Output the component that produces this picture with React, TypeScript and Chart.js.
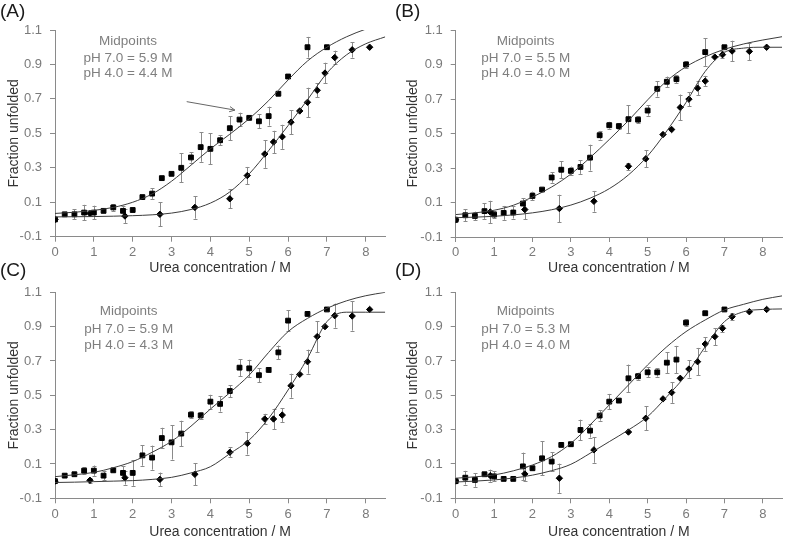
import React, { useEffect, useRef } from 'react';
import { Chart, registerables } from 'chart.js';

Chart.register(...registerables);
Chart.defaults.font.family = '"Liberation Sans", Arial, sans-serif';

// ---------- shared axes / sampling ----------
const xTickValues = [0, 1, 2, 3, 4, 5, 6, 7, 8];
const yTickValues = [-0.1, 0.1, 0.3, 0.5, 0.7, 0.9, 1.1];
const curveX = [0, 0.5, 1, 1.5, 2, 2.5, 3, 3.5, 4, 4.5, 5, 5.5, 6, 6.5, 7, 7.5, 8, 8.5];
const squareX = [0, 0.25, 0.5, 0.75, 1, 1.25, 1.5, 1.75, 2, 2.25, 2.5, 2.75, 3, 3.25, 3.5, 3.75, 4, 4.25, 4.5, 4.75, 5, 5.25, 5.5, 5.75, 6, 6.5, 7];
const diamondX = [0, 0.9, 1.8, 2.7, 3.6, 4.5, 4.95, 5.4, 5.625, 5.85, 6.075, 6.3, 6.5, 6.75, 6.95, 7.2, 7.65, 8.1];

// ---------- panel A ----------
const aSquareY = [0, 0.03, 0.03, 0.04, 0.04, 0.05, 0.07, 0.05, 0.055, 0.13, 0.15, 0.24, 0.265, 0.3, 0.36, 0.42, 0.41, 0.46, 0.53, 0.58, 0.59, 0.57, 0.6, 0.73, 0.83, 1.0, 1.0];
const aSquareErr = [0, 0, 0.03, 0.045, 0.04, 0, 0.02, 0.03, 0, 0, 0.03, 0, 0, 0.085, 0.03, 0.085, 0.09, 0.03, 0.07, 0.04, 0, 0.04, 0.055, 0, 0.01, 0.06, 0];
const aDiamondY = [0, 0.035, 0.02, 0.03, 0.07, 0.12, 0.255, 0.38, 0.45, 0.48, 0.565, 0.63, 0.68, 0.75, 0.85, 0.94, 0.985, 1.0];
const aDiamondErr = [0, 0, 0.04, 0.07, 0.065, 0.055, 0.05, 0.08, 0.065, 0.07, 0.07, 0, 0.085, 0.04, 0.06, 0.04, 0.045, 0];
const aSquareFit = [0.035, 0.042, 0.053, 0.07, 0.1, 0.148, 0.222, 0.315, 0.41, 0.495, 0.585, 0.69, 0.81, 0.92, 1.0, 1.06, 1.105, 1.14];
const aDiamondFit = [0.015, 0.016, 0.017, 0.019, 0.022, 0.027, 0.037, 0.058, 0.095, 0.16, 0.265, 0.4, 0.545, 0.695, 0.85, 0.955, 1.02, 1.06];
const aMidpoints = ['Midpoints', 'pH 7.0 = 5.9 M', 'pH 4.0 = 4.4 M'];
const aArrowFrom = { x: 3.39, y: 0.684 };
const aArrowTo = { x: 4.63, y: 0.635 };

// ---------- panel B ----------
const bSquareY = [0, 0.026, 0.022, 0.05, 0.03, 0.04, 0.042, 0.094, 0.138, 0.175, 0.245, 0.29, 0.283, 0.306, 0.36, 0.49, 0.548, 0.543, 0.583, 0.58, 0.633, 0.759, 0.8, 0.815, 0.9, 0.972, 1.0];
const bSquareErr = [0, 0.035, 0.025, 0.045, 0.02, 0.04, 0.035, 0.03, 0.025, 0, 0.03, 0.05, 0.025, 0.04, 0.075, 0.025, 0.02, 0.015, 0.08, 0.02, 0.03, 0.045, 0.03, 0.025, 0.02, 0.08, 0];
const bDiamondY = [0, 0.045, 0.059, 0.065, 0.107, 0.31, 0.353, 0.494, 0.523, 0.651, 0.699, 0.763, 0.804, 0.943, 0.957, 0.978, 0.976, 1.0];
const bDiamondErr = [0, 0.065, 0.055, 0.08, 0.06, 0.02, 0.05, 0, 0, 0.075, 0.04, 0.04, 0.03, 0, 0.02, 0.06, 0.05, 0];
const bSquareFit = [0.03, 0.04, 0.055, 0.084, 0.132, 0.19, 0.265, 0.36, 0.465, 0.575, 0.695, 0.805, 0.887, 0.945, 0.988, 1.019, 1.042, 1.061];
const bDiamondFit = [0.012, 0.015, 0.02, 0.028, 0.04, 0.058, 0.085, 0.125, 0.18, 0.26, 0.37, 0.515, 0.68, 0.86, 0.97, 0.995, 1.0, 1.0];
const bMidpoints = ['Midpoints', 'pH 7.0 = 5.5 M', 'pH 4.0 = 4.0 M'];

// ---------- panel C ----------
const cSquareY = [0, 0.032, 0.04, 0.061, 0.061, 0.032, 0.063, 0.048, 0.048, 0.15, 0.137, 0.251, 0.226, 0.277, 0.387, 0.383, 0.463, 0.45, 0.525, 0.661, 0.657, 0.617, 0.648, 0.75, 0.935, 0.974, 1.0];
const cSquareErr = [0, 0, 0, 0.02, 0.03, 0.025, 0, 0.04, 0.075, 0.06, 0.07, 0.06, 0.1, 0.075, 0.02, 0.02, 0.04, 0.045, 0.035, 0.05, 0.05, 0.04, 0.015, 0.04, 0.06, 0, 0];
const cDiamondY = [0, 0.005, 0.02, 0.01, 0.04, 0.168, 0.22, 0.362, 0.362, 0.385, 0.556, 0.622, 0.696, 0.842, 0.9, 0.964, 0.962, 1.0];
const cDiamondErr = [0, 0.015, 0.04, 0.04, 0.065, 0.03, 0.065, 0.03, 0.06, 0.04, 0.07, 0, 0.07, 0.09, 0, 0.07, 0.085, 0];
const cSquareFit = [0.026, 0.037, 0.051, 0.078, 0.114, 0.168, 0.232, 0.32, 0.42, 0.515, 0.618, 0.75, 0.871, 0.948, 1.007, 1.05, 1.08, 1.1];
const cDiamondFit = [-0.008, -0.006, -0.003, 0, 0.003, 0.01, 0.022, 0.048, 0.084, 0.16, 0.24, 0.366, 0.531, 0.716, 0.929, 0.984, 0.984, 0.984];
const cMidpoints = ['Midpoints', 'pH 7.0 = 5.9 M', 'pH 4.0 = 4.3 M'];

// ---------- panel D ----------
const dSquareY = [0, 0.02, 0.007, 0.04, 0.028, 0.013, 0.013, 0.086, 0.075, 0.133, 0.114, 0.211, 0.215, 0.298, 0.294, 0.382, 0.463, 0.469, 0.599, 0.611, 0.634, 0.634, 0.69, 0.708, 0.923, 0.978, 1.0];
const dSquareErr = [0, 0.04, 0.04, 0, 0.03, 0, 0, 0.08, 0, 0.1, 0.055, 0, 0, 0.06, 0.04, 0.03, 0.045, 0, 0.08, 0.02, 0.03, 0.025, 0.06, 0.08, 0.02, 0, 0];
const dDiamondY = [0, 0.032, 0.042, 0.017, 0.182, 0.286, 0.366, 0.479, 0.516, 0.599, 0.653, 0.696, 0.799, 0.842, 0.89, 0.958, 0.987, 1.0];
const dDiamondErr = [0, 0.035, 0.04, 0.085, 0.075, 0, 0.07, 0, 0.06, 0, 0.05, 0.08, 0.04, 0.05, 0.02, 0.02, 0, 0];
const dSquareFit = [0.017, 0.025, 0.036, 0.06, 0.094, 0.143, 0.22, 0.327, 0.444, 0.56, 0.677, 0.783, 0.871, 0.939, 0.997, 1.03, 1.059, 1.079];
const dDiamondFit = [-0.005, 0, 0.007, 0.018, 0.035, 0.061, 0.098, 0.162, 0.23, 0.298, 0.376, 0.492, 0.618, 0.783, 0.929, 0.987, 1.0, 1.003];
const dMidpoints = ['Midpoints', 'pH 7.0 = 5.3 M', 'pH 4.0 = 4.0 M'];

const xTitle = 'Urea concentration / M';
const yTitle = 'Fraction unfolded';

type PanelCfg = {
  letter: string;
  left: number; top: number; width: number; height: number;
  plotLeft: number; plotRight: number; plotTop: number; plotBottom: number;
  letterY: number; yTitlePad: number; xTitlePad: number;
  textDx: number; textDy: number[];
  squareY: number[]; squareErr: number[]; diamondY: number[]; diamondErr: number[];
  squareFit: number[]; diamondFit: number[]; midpoints: string[];
  arrow?: { from: { x: number; y: number }; to: { x: number; y: number } };
};

const panels: PanelCfg[] = [
  {
    letter: '(A)', left: 0, top: 0, width: 395, height: 275,
    plotLeft: 55, plotRight: 385.2, plotTop: 30, plotBottom: 236.7,
    letterY: 11.5, yTitlePad: 7.5, xTitlePad: -0.3, textDx: 73, textDy: [11, 28.5, 43.5],
    squareY: aSquareY, squareErr: aSquareErr, diamondY: aDiamondY, diamondErr: aDiamondErr,
    squareFit: aSquareFit, diamondFit: aDiamondFit, midpoints: aMidpoints,
    arrow: { from: aArrowFrom, to: aArrowTo },
  },
  {
    letter: '(B)', left: 395, top: 0, width: 392, height: 275,
    plotLeft: 60.7, plotRight: 390.7, plotTop: 30, plotBottom: 237,
    letterY: 11.5, yTitlePad: 11.3, xTitlePad: -0.3, textDx: 70, textDy: [11, 28.5, 43.5],
    squareY: bSquareY, squareErr: bSquareErr, diamondY: bDiamondY, diamondErr: bDiamondErr,
    squareFit: bSquareFit, diamondFit: bDiamondFit, midpoints: bMidpoints,
  },
  {
    letter: '(C)', left: 0, top: 262, width: 395, height: 275,
    plotLeft: 55, plotRight: 385.2, plotTop: 30.3, plotBottom: 236.3,
    letterY: 9, yTitlePad: 7.5, xTitlePad: -1.7, textDx: 73.7, textDy: [19.4, 36.7, 53.2],
    squareY: cSquareY, squareErr: cSquareErr, diamondY: cDiamondY, diamondErr: cDiamondErr,
    squareFit: cSquareFit, diamondFit: cDiamondFit, midpoints: cMidpoints,
  },
  {
    letter: '(D)', left: 395, top: 262, width: 392, height: 275,
    plotLeft: 60.7, plotRight: 390.7, plotTop: 30.3, plotBottom: 236.3,
    letterY: 9, yTitlePad: 11.3, xTitlePad: -1.7, textDx: 70, textDy: [19.4, 36.7, 53.2],
    squareY: dSquareY, squareErr: dSquareErr, diamondY: dDiamondY, diamondErr: dDiamondErr,
    squareFit: dSquareFit, diamondFit: dDiamondFit, midpoints: dMidpoints,
  },
];

const errorBarPlugin = {
  id: 'errorBars',
  beforeDatasetsDraw(chart: any) {
    const { ctx } = chart;
    const xs = chart.scales.x;
    const ys = chart.scales.y;
    ctx.save();
    ctx.strokeStyle = '#8a8a8a';
    ctx.lineWidth = 1;
    chart.data.datasets.forEach((ds: any) => {
      if (!ds.errors) return;
      ds.data.forEach((p: any, i: number) => {
        const e = ds.errors[i];
        if (!e) return;
        const px = Math.round(xs.getPixelForValue(p.x)) + 0.5;
        const yt = ys.getPixelForValue(p.y + e);
        const yb = ys.getPixelForValue(p.y - e);
        ctx.beginPath();
        ctx.moveTo(px, yt);
        ctx.lineTo(px, yb);
        ctx.moveTo(px - 2, Math.round(yt) + 0.5);
        ctx.lineTo(px + 2, Math.round(yt) + 0.5);
        ctx.moveTo(px - 2, Math.round(yb) + 0.5);
        ctx.lineTo(px + 2, Math.round(yb) + 0.5);
        ctx.stroke();
      });
    });
    ctx.restore();
  },
};

function makeTextPlugin(cfg: PanelCfg) {
  return {
    id: 'panelText',
    afterDraw(chart: any) {
      const { ctx, chartArea } = chart;
      ctx.save();
      ctx.fillStyle = '#1a1a1a';
      ctx.font = '19px "Liberation Sans", Arial, sans-serif';
      ctx.textAlign = 'left';
      ctx.textBaseline = 'middle';
      ctx.fillText(cfg.letter, 0, cfg.letterY);
      ctx.fillStyle = '#7f7f7f';
      ctx.font = '13.5px "Liberation Sans", Arial, sans-serif';
      ctx.textAlign = 'center';
      cfg.midpoints.forEach((t, i) => {
        ctx.fillText(t, chartArea.left + cfg.textDx, chartArea.top + cfg.textDy[i]);
      });
      if (cfg.arrow) {
        const xs = chart.scales.x;
        const ys = chart.scales.y;
        const x1 = xs.getPixelForValue(cfg.arrow.from.x);
        const y1 = ys.getPixelForValue(cfg.arrow.from.y);
        const x2 = xs.getPixelForValue(cfg.arrow.to.x);
        const y2 = ys.getPixelForValue(cfg.arrow.to.y);
        const ang = Math.atan2(y2 - y1, x2 - x1);
        ctx.strokeStyle = '#666';
        ctx.lineWidth = 1;
        ctx.beginPath();
        ctx.moveTo(x1, y1);
        ctx.lineTo(x2, y2);
        ctx.moveTo(x2 - 6 * Math.cos(ang - 0.45), y2 - 6 * Math.sin(ang - 0.45));
        ctx.lineTo(x2, y2);
        ctx.lineTo(x2 - 6 * Math.cos(ang + 0.45), y2 - 6 * Math.sin(ang + 0.45));
        ctx.stroke();
      }
      ctx.restore();
    },
  };
}

function Panel({ cfg }: { cfg: PanelCfg }) {
  const ref = useRef<HTMLCanvasElement | null>(null);
  useEffect(() => {
    if (!ref.current) return;
    const curveStyle = {
      type: 'line' as const,
      showLine: true,
      borderColor: '#3c3c3c',
      borderWidth: 1,
      pointRadius: 0,
      pointHoverRadius: 0,
      fill: false,
      cubicInterpolationMode: 'monotone' as const,
    };
    const chart = new Chart(ref.current, {
      type: 'scatter',
      data: {
        datasets: [
          { ...curveStyle, data: curveX.map((x, i) => ({ x, y: cfg.squareFit[i] })) },
          { ...curveStyle, data: curveX.map((x, i) => ({ x, y: cfg.diamondFit[i] })) },
          {
            type: 'scatter',
            data: squareX.map((x, i) => ({ x, y: cfg.squareY[i] })),
            errors: cfg.squareErr,
            pointStyle: 'rect',
            pointRadius: 3.4,
            backgroundColor: '#000',
            borderColor: '#000',
            borderWidth: 1,
          } as any,
          {
            type: 'scatter',
            data: diamondX.map((x, i) => ({ x, y: cfg.diamondY[i] })),
            errors: cfg.diamondErr,
            pointStyle: 'rectRot',
            pointRadius: 3.2,
            backgroundColor: '#000',
            borderColor: '#000',
            borderWidth: 1,
          } as any,
        ],
      },
      options: {
        responsive: false,
        animation: false,
        events: [],
        layout: {
          padding: { left: 0, top: cfg.plotTop, right: cfg.width - cfg.plotRight, bottom: 0 },
        },
        plugins: { legend: { display: false }, tooltip: { enabled: false } },
        scales: {
          x: {
            type: 'linear',
            min: 0,
            max: 8.5,
            afterBuildTicks: (s: any) => { s.ticks = xTickValues.map((v) => ({ value: v })); },
            afterFit: (s: any) => { s.height = cfg.height - cfg.plotBottom; },
            ticks: { color: '#7a7a7a', font: { size: 13 }, padding: 3, maxRotation: 0, autoSkip: false },
            grid: { drawOnChartArea: false, drawTicks: true, tickLength: 5, color: '#8a8a8a' },
            border: { display: true, color: '#8a8a8a' },
            title: {
              display: true, text: xTitle, color: '#333',
              font: { size: 14, lineHeight: 1 }, padding: { top: 0, bottom: cfg.xTitlePad },
            },
          },
          y: {
            type: 'linear',
            min: -0.1,
            max: 1.1,
            afterBuildTicks: (s: any) => { s.ticks = yTickValues.map((v) => ({ value: v })); },
            afterFit: (s: any) => { s.width = cfg.plotLeft; },
            ticks: {
              color: '#7a7a7a', font: { size: 13 }, padding: 8, autoSkip: false,
              callback: (v: any) => Number(v).toFixed(1),
            },
            grid: { drawOnChartArea: false, drawTicks: true, tickLength: 5, color: '#8a8a8a' },
            border: { display: true, color: '#8a8a8a' },
            title: {
              display: true, text: yTitle, color: '#333',
              font: { size: 14, lineHeight: 1 }, padding: { top: cfg.yTitlePad, bottom: 0 },
            },
          },
        },
      } as any,
      plugins: [errorBarPlugin, makeTextPlugin(cfg)],
    });
    return () => chart.destroy();
  }, [cfg]);
  return (
    <canvas
      ref={ref}
      width={cfg.width}
      height={cfg.height}
      style={{ position: 'absolute', left: cfg.left, top: cfg.top, width: cfg.width, height: cfg.height }}
    />
  );
}

export default function App() {
  return (
    <div style={{ position: 'absolute', left: 0, top: 0, width: 787, height: 537, background: '#fff', overflow: 'hidden' }}>
      {panels.map((p) => (
        <Panel key={p.letter} cfg={p} />
      ))}
    </div>
  );
}
